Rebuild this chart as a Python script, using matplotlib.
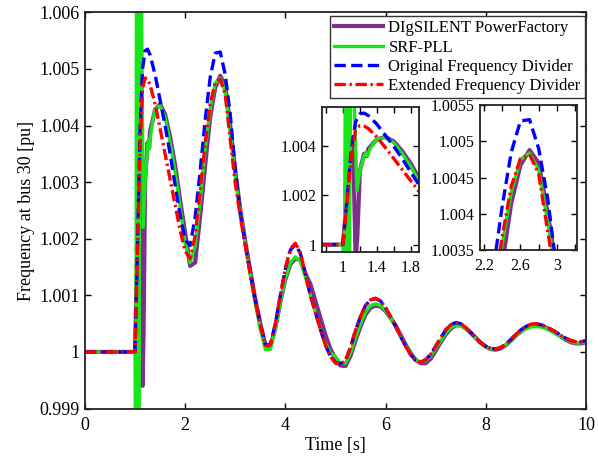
import numpy as np
import matplotlib
matplotlib.use("Agg")
import matplotlib.pyplot as plt
from matplotlib.ticker import FuncFormatter

plt.rcParams['font.family'] = ['Liberation Serif', 'DejaVu Serif']
plt.rcParams['mathtext.fontset'] = 'stix'

# ---- data ----
labels = ['DIgSILENT PowerFactory', 'SRF-PLL',
          'Original Frequency Divider', 'Extended Frequency Divider']

# first second and a bit: each curve has its own sampling
t_pf_early = [0, 1.0, 1.05, 1.1, 1.12, 1.15, 1.17, 1.2, 1.25, 1.28, 1.3,
              1.4, 1.5, 1.6, 1.7, 1.8, 1.9]
f_pf_early = [1, 1, 1.002, 1.0042, 1.0040, 0.9994, 1.0003, 1.0030, 1.0037,
              1.0036, 1.0039, 1.00428, 1.00438, 1.0042, 1.0038, 1.0033, 1.00268]

t_pll_early = [0, 1.0, 1.015, 1.03, 1.045, 1.06, 1.075, 1.095, 1.12, 1.165,
               1.2, 1.25, 1.27, 1.29, 1.32, 1.4, 1.5, 1.6, 1.7, 1.8, 1.9]
f_pll_early = [1, 1, 0.997, 1.008, 0.997, 1.008, 0.998, 1.008, 1.0075, 1.0022,
               1.0030, 1.0036, 1.00375, 1.0036, 1.0039, 1.0043, 1.00435,
               1.00415, 1.0037, 1.00318, 1.00255]

t_fd_early = [0, 1.0, 1.05, 1.1, 1.15, 1.2, 1.25, 1.3, 1.4, 1.5, 1.6, 1.7,
              1.8, 1.9]
f_ofd_early = [1, 1, 1.0019, 1.0039, 1.0050, 1.00532, 1.00535, 1.00525,
               1.0049, 1.00445, 1.0040, 1.0035, 1.00295, 1.00242]
f_efd_early = [1, 1, 1.0018, 1.0036, 1.00465, 1.00484, 1.00482, 1.00472,
               1.00438, 1.00395, 1.0035, 1.00305, 1.0026, 1.00215]

# from 2 s on all four share a 0.1 s grid
t_late = np.round(np.arange(2.0, 10.01, 0.1), 2)

f_pf_late = [1.00210, 1.00152, 1.00158, 1.00240, 1.00330, 1.00415, 1.00467,
             1.00488, 1.00470, 1.00400, 1.00320, 1.00252, 1.00195, 1.00143,
             1.00093, 1.00050, 1.00012, 1.00009, 1.00042, 1.00088, 1.00128,
             1.00155, 1.00165, 1.00162, 1.00138, 1.00120, 1.00090, 1.00060,
             1.00030, 1.00005, 0.99988, 0.99976, 0.99975, 0.99993, 1.00020,
             1.00045, 1.00066, 1.00078, 1.00082, 1.00080, 1.00072, 1.00060,
             1.00047, 1.00030, 1.00013, 0.99998, 0.99986, 0.99980, 0.99980,
             0.99988, 1.00002, 1.00017, 1.00031, 1.00041, 1.00047, 1.00047,
             1.00042, 1.00034, 1.00025, 1.00016, 1.00009, 1.00005, 1.00004,
             1.00006, 1.00012, 1.00020, 1.00029, 1.00036, 1.00042, 1.00046,
             1.00047, 1.00046, 1.00043, 1.00038, 1.00033, 1.00027, 1.00021,
             1.00017, 1.00015, 1.00015, 1.00017]

f_pll_late = [1.00192, 1.00158, 1.00188, 1.00268, 1.00358, 1.00430, 1.00475,
              1.00484, 1.00460, 1.00388, 1.00310, 1.00245, 1.00190, 1.00136,
              1.00085, 1.00040, 1.00004, 1.00004, 1.00040, 1.00088, 1.00130,
              1.00158, 1.00168, 1.00160, 1.00132, 1.00100, 1.00070, 1.00040,
              1.00015, 0.99998, 0.99992, 0.99979, 0.99980, 0.99998, 1.00025,
              1.00050, 1.00070, 1.00082, 1.00085, 1.00082, 1.00073, 1.00060,
              1.00045, 1.00028, 1.00012, 0.99997, 0.99986, 0.99982, 0.99984,
              0.99993, 1.00006, 1.00020, 1.00033, 1.00043, 1.00047, 1.00046,
              1.00040, 1.00032, 1.00023, 1.00015, 1.00009, 1.00005, 1.00005,
              1.00007, 1.00013, 1.00021, 1.00029, 1.00036, 1.00041, 1.00044,
              1.00045, 1.00044, 1.00041, 1.00037, 1.00032, 1.00027, 1.00022,
              1.00018, 1.00016, 1.00016, 1.00018]

f_ofd_late = [1.00198, 1.00188, 1.00238, 1.00320, 1.00410, 1.00485, 1.00528,
              1.00530, 1.00490, 1.00420, 1.00320, 1.00245, 1.00190, 1.00140,
              1.00091, 1.00049, 1.00013, 1.00013, 1.00050, 1.00100, 1.00147,
              1.00180, 1.00190, 1.00174, 1.00138, 1.00100, 1.00070, 1.00040,
              1.00012, 0.99992, 0.99981, 0.99979, 0.99985, 1.00008, 1.00038,
              1.00063, 1.00082, 1.00092, 1.00094, 1.00090, 1.00078, 1.00062,
              1.00045, 1.00027, 1.00010, 0.99995, 0.99985, 0.99982, 0.99986,
              0.99996, 1.00010, 1.00025, 1.00039, 1.00048, 1.00052, 1.00050,
              1.00043, 1.00034, 1.00025, 1.00016, 1.00010, 1.00006, 1.00005,
              1.00008, 1.00014, 1.00022, 1.00031, 1.00039, 1.00045, 1.00049,
              1.00050, 1.00048, 1.00045, 1.00040, 1.00035, 1.00029, 1.00024,
              1.00020, 1.00018, 1.00018, 1.00020]

f_efd_late = [1.00178, 1.00165, 1.00205, 1.00285, 1.00368, 1.00438, 1.00476,
              1.00482, 1.00455, 1.00375, 1.00298, 1.00240, 1.00188, 1.00138,
              1.00090, 1.00048, 1.00012, 1.00012, 1.00050, 1.00100, 1.00148,
              1.00182, 1.00192, 1.00175, 1.00138, 1.00100, 1.00070, 1.00040,
              1.00012, 0.99992, 0.99980, 0.99978, 0.99985, 1.00008, 1.00038,
              1.00063, 1.00082, 1.00092, 1.00095, 1.00090, 1.00078, 1.00062,
              1.00045, 1.00027, 1.00010, 0.99995, 0.99985, 0.99982, 0.99986,
              0.99996, 1.00010, 1.00025, 1.00039, 1.00048, 1.00052, 1.00050,
              1.00043, 1.00034, 1.00025, 1.00016, 1.00010, 1.00006, 1.00005,
              1.00008, 1.00014, 1.00022, 1.00031, 1.00039, 1.00045, 1.00049,
              1.00050, 1.00048, 1.00045, 1.00040, 1.00035, 1.00029, 1.00024,
              1.00020, 1.00018, 1.00018, 1.00020]

t_pf = np.concatenate([t_pf_early, t_late])
f_pf = np.concatenate([f_pf_early, f_pf_late])
t_pll = np.concatenate([t_pll_early, t_late])
f_pll = np.concatenate([f_pll_early, f_pll_late])
t_fd = np.concatenate([t_fd_early, t_late])
f_ofd = np.concatenate([f_ofd_early, f_ofd_late])
f_efd = np.concatenate([f_efd_early, f_efd_late])

purple = '#7E2F8E'
green = '#19e619'


def draw(ax, lw=2.4):
    ax.plot(t_pf, f_pf, color=purple, lw=lw + 0.6, label=labels[0])
    ax.plot(t_pll, f_pll, color=green, lw=lw, label=labels[1])
    ax.plot(t_fd, f_ofd, color='b', lw=lw, dashes=(3.4, 1.6), label=labels[2])
    ax.plot(t_fd, f_efd, color='r', lw=lw, dashes=(3.4, 1.1, 0.7, 1.1),
            label=labels[3])


def style(ax, size):
    ax.tick_params(direction='in', top=True, right=True, length=4,
                   width=1, labelsize=size, pad=4)
    ax.tick_params(axis='x', pad=6)
    for s in ax.spines.values():
        s.set_linewidth(1.3)
        s.set_color('#222222')
    ax.yaxis.set_major_formatter(FuncFormatter(lambda v, p: f'{v:g}'))
    ax.xaxis.set_major_formatter(FuncFormatter(lambda v, p: f'{v:g}'))


fig = plt.figure(figsize=(5.98, 4.59), dpi=100)
ax = fig.add_axes([0.142, 0.110, 0.838, 0.863])
draw(ax)
ax.set_xlim(0, 10)
ax.set_ylim(0.999, 1.006)
ax.set_xticks([0, 2, 4, 6, 8, 10])
ax.set_yticks([0.999, 1.0, 1.001, 1.002, 1.003, 1.004, 1.005, 1.006])
style(ax, 13)
ax.set_xlabel('Time [s]', fontsize=13, labelpad=2)
ax.set_ylabel('Frequency at bus 30 [pu]', fontsize=13, labelpad=3)

leg = ax.legend(loc='upper right', bbox_to_anchor=(0.978, 0.965),
                bbox_transform=fig.transFigure, fontsize=12, fancybox=False,
                framealpha=1, edgecolor='#333333', handlelength=2.9,
                handletextpad=0.35, labelspacing=0.2, borderpad=0.25,
                borderaxespad=0)
leg.get_frame().set_linewidth(1.0)

# inset around the disturbance
ax1 = fig.add_axes([0.538, 0.451, 0.163, 0.316])
draw(ax1)
ax1.set_xlim(0.75, 1.9)
ax1.set_ylim(0.9997, 1.0056)
ax1.set_xticks([0.8, 1.0, 1.2, 1.4, 1.6, 1.8])
ax1.set_yticks([1.0, 1.002, 1.004])
style(ax1, 11.5)
ax1.set_xticklabels(['', '1', '', '1.4', '', '1.8'])

# inset around the second peak
ax2 = fig.add_axes([0.803, 0.455, 0.162, 0.316])
draw(ax2)
ax2.set_xlim(2.16, 3.22)
ax2.set_ylim(1.0035, 1.0055)
ax2.set_xticks([2.2, 2.4, 2.6, 2.8, 3.0, 3.2])
ax2.set_yticks([1.0035, 1.004, 1.0045, 1.005, 1.0055])
style(ax2, 11.5)
ax2.set_xticklabels(['2.2', '', '2.6', '', '3', ''])

fig.savefig('out.png', dpi=100)
